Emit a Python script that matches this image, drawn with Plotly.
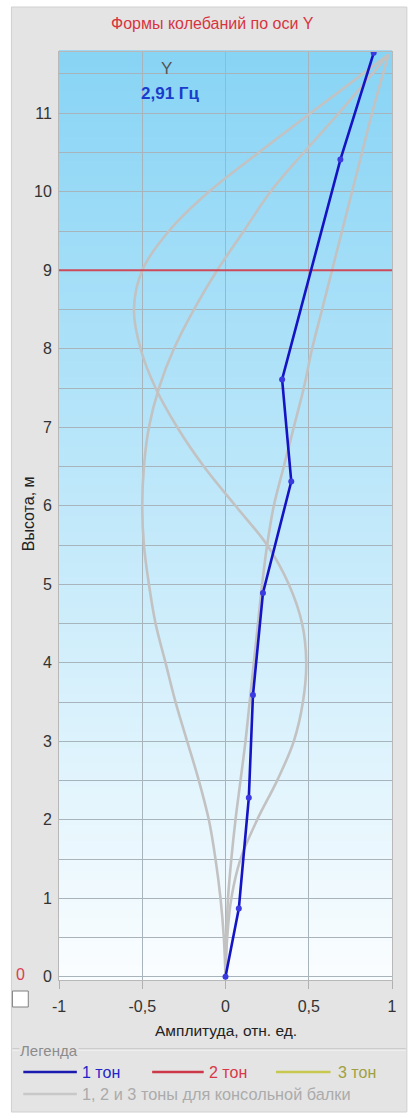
import plotly.graph_objects as go

# ---------------- data ----------------
# 1st tone (measured), amplitude vs height
tone1_x = [0, 0.08, 0.14, 0.165, 0.225, 0.395, 0.34, 0.69, 0.89]
tone1_y = [0, 0.87, 2.28, 3.59, 4.89, 6.31, 7.61, 10.41, 11.77]

# 2nd tone marker level
tone2_x = [-1, 1]
tone2_y = [9, 9]

# cantilever beam reference shapes (1, 2, 3 tones), read at heights below
beam_y = [0, 0.5, 1, 1.5, 2, 2.5, 3, 3.5, 4, 4.5, 5, 5.5, 6, 6.5, 7, 7.5, 8, 8.5, 9, 9.5,
          10, 10.5, 11, 11.75]
beam1_x = [0, 0.005, 0.015, 0.035, 0.06, 0.09, 0.12, 0.145, 0.17, 0.195, 0.22, 0.25, 0.29,
           0.35, 0.41, 0.47, 0.52, 0.58, 0.64, 0.70, 0.76, 0.82, 0.88, 0.98]
beam2_x = [0, -0.01, -0.03, -0.06, -0.10, -0.16, -0.23, -0.30, -0.36, -0.42, -0.46, -0.49,
           -0.50, -0.49, -0.46, -0.40, -0.31, -0.19, -0.05, 0.11, 0.27, 0.47, 0.68, 0.98]
beam3_x = [0, 0.01, 0.035, 0.09, 0.19, 0.31, 0.41, 0.465, 0.485, 0.46, 0.38, 0.25, 0.06,
           -0.13, -0.29, -0.42, -0.51, -0.55, -0.50, -0.34, -0.10, 0.20, 0.51, 0.98]

x_tickvals = [-1, -0.5, 0, 0.5, 1]
x_ticktext = ["-1", "-0,5", "0", "0,5", "1"]
y_tickvals = list(range(0, 12))
y_ticktext = [str(v) for v in y_tickvals]

# ---------------- layout geometry ----------------
W, H = 409, 1114
PL, PR, PT, PB = 59, 395, 52, 980  # plot area in pixels


def px(X):
    return (X - PL) / (PR - PL)


def py(Y):
    return (PB - Y) / (PB - PT)


FONT = "Liberation Sans, Arial, sans-serif"
PANEL = "#e4e4e4"

fig = go.Figure()

gray = "#c2c2c2"
for bx in [beam1_x, beam2_x, beam3_x]:
    fig.add_trace(go.Scatter(x=bx, y=beam_y, mode="lines",
                             line=dict(color=gray, width=2.6, shape="spline", smoothing=1.0),
                             hoverinfo="skip", showlegend=False))

fig.add_trace(go.Scatter(x=tone2_x, y=tone2_y, mode="lines",
                         line=dict(color="#cc4a5a", width=2), showlegend=False))

fig.add_trace(go.Scatter(x=tone1_x, y=tone1_y, mode="lines+markers",
                         line=dict(color="#1414c4", width=2.6),
                         marker=dict(color="#3a3ae0", size=6, symbol="circle"),
                         showlegend=False))

shapes = []
# outer gray panel
shapes.append(dict(type="rect", xref="paper", yref="paper",
                   x0=px(11), x1=px(410), y0=py(1112), y1=py(7),
                   fillcolor=PANEL, line=dict(color="#d0d0d0", width=1), layer="below"))

# gradient background of plot area
N = 120
top = (136, 212, 245)
bot = (250, 253, 255)
for i in range(N):
    t = i / (N - 1)
    c = tuple(int(round(bot[k] + (top[k] - bot[k]) * t)) for k in range(3))
    shapes.append(dict(type="rect", xref="paper", yref="paper",
                       x0=0, x1=1, y0=i / N, y1=(i + 1) / N + 0.002,
                       fillcolor="rgb(%d,%d,%d)" % c, line=dict(width=0), layer="below"))

# checkbox
shapes.append(dict(type="rect", xref="paper", yref="paper",
                   x0=px(12), x1=px(28), y0=py(1007), y1=py(991),
                   fillcolor="white", line=dict(color="#808080", width=1)))
# legend group box line
shapes.append(dict(type="line", xref="paper", yref="paper",
                   x0=px(12), x1=px(409), y0=py(1049), y1=py(1049),
                   line=dict(color="#b4b4b4", width=1)))
shapes.append(dict(type="line", xref="paper", yref="paper",
                   x0=px(12), x1=px(409), y0=py(1050), y1=py(1050),
                   line=dict(color="#f8f8f8", width=1)))

# legend sample lines
leg_lines = [
    (23, 77, 1072, "#1a1ab0"),
    (153, 205, 1072, "#cc3848"),
    (278, 333, 1072, "#c8c850"),
    (23, 77, 1094, "#c8c8c8"),
]
for x0, x1, yy, col in leg_lines:
    shapes.append(dict(type="line", xref="paper", yref="paper",
                       x0=px(x0), x1=px(x1), y0=py(yy), y1=py(yy),
                       line=dict(color=col, width=2.5)))


def ann(text, X, Y, size, color, xanchor="center", **kw):
    d = dict(text=text, x=px(X), y=py(Y), xref="paper", yref="paper",
             showarrow=False, font=dict(family=FONT, size=size, color=color),
             xanchor=xanchor, yanchor="middle")
    d.update(kw)
    return d


annotations = [
    ann("Формы колебаний по оси Y", 214, 23, 16, "#d8343f"),
    ann("Y", 167, 69, 17, "#555555"),
    ann("<b>2,91 Гц</b>", 171, 93, 17, "#1a3ccc"),
    ann("Высота, м", 28, 514, 16, "#222222", textangle=-90),
    ann("Амплитуда, отн. ед.", 227, 1030, 15.5, "#222222"),
    ann("0", 20, 974, 16, "#d84050"),
    ann("Легенда", 19, 1050, 15, "#8c8c8c", xanchor="left", bgcolor=PANEL, borderpad=0),
    ann("1 тон", 80, 1072, 16, "#2424c8", xanchor="left"),
    ann("2 тон", 208, 1072, 16, "#d83848", xanchor="left"),
    ann("3 тон", 338, 1072, 16, "#a0a040", xanchor="left"),
    ann("1, 2 и 3 тоны для консольной балки", 80, 1094, 16.3, "#ababab", xanchor="left"),
]

fig.update_layout(
    width=W, height=H,
    margin=dict(l=PL, r=W - PR, t=PT, b=H - PB, pad=0),
    paper_bgcolor="white",
    plot_bgcolor="rgba(0,0,0,0)",
    shapes=shapes,
    annotations=annotations,
    showlegend=False,
    xaxis=dict(range=[-1, 1], tickvals=x_tickvals, ticktext=x_ticktext,
               showgrid=True, gridcolor="#a8b4bc", gridwidth=1, zeroline=False,
               ticks="outside", ticklen=8, tickcolor="#b0b0b0", ticklabelstandoff=4,
               tickfont=dict(family=FONT, size=16, color="#333333"),
               showline=True, linecolor="#b8b8b8", mirror=True, fixedrange=True),
    yaxis=dict(range=[-0.04, 11.78], tickvals=y_tickvals, ticktext=y_ticktext,
               showgrid=True, gridcolor="#a8b4bc", gridwidth=1, zeroline=False,
               minor=dict(dtick=0.5, showgrid=True, gridcolor="#a8b4bc", gridwidth=1),
               ticks="outside", ticklen=3, tickcolor="rgba(0,0,0,0)",
               tickfont=dict(family=FONT, size=16, color="#333333"),
               showline=True, linecolor="#b8b8b8", mirror=True, fixedrange=True),
)

fig.write_html("out.html", config={"displayModeBar": False},
               post_script="document.body.style.margin='0';document.body.style.overflow='hidden';")
